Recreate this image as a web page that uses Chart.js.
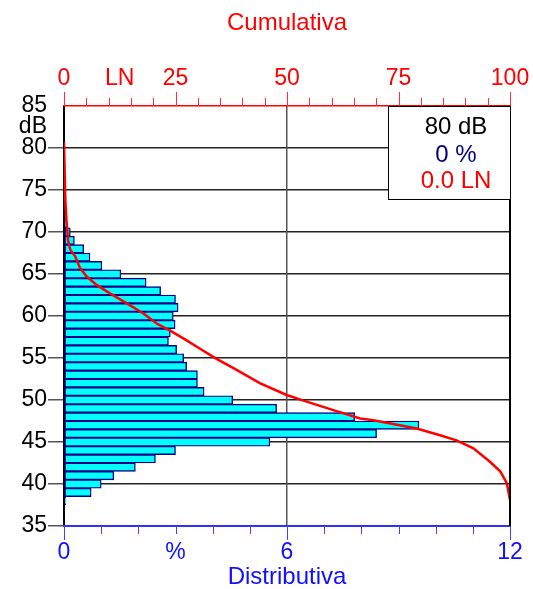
<!DOCTYPE html>
<html>
<head>
<meta charset="utf-8">
<script src="https://cdn.jsdelivr.net/npm/chart.js@4/dist/chart.umd.min.js"></script>
<style>
  html, body { margin: 0; padding: 0; background: #fff; }
  canvas { display: block; }
</style>
</head>
<body>
<canvas id="nivel" width="533" height="589" style="width:533px;height:589px"></canvas>
<script>
// niveles (centro de cada barra, dB) y distribución en %
const dbLevels = [38, 39, 40, 41, 42, 43, 44, 45, 46, 47, 48, 49, 50, 51, 52, 53, 54, 55,
  56, 57, 58, 59, 60, 61, 62, 63, 64, 65, 66, 67, 68, 69, 70, 71, 72, 73, 74];
const distPct = [0.05, 0.73, 1.00, 1.34, 1.92, 2.46, 3.00, 5.54, 8.41, 9.55, 7.82, 5.72, 4.54, 3.77, 3.59, 3.59, 3.30, 3.22,
  3.03, 2.81, 2.86, 2.99, 2.94, 3.07, 3.00, 2.60, 2.21, 1.53, 1.02, 0.70, 0.53, 0.28, 0.17, 0.06, 0.05, 0.04, 0.03];

// curva acumulativa (LN)
const cumLN = [0, 0.3, 0.55, 0.9, 1.4, 2.5, 3.6, 5.1, 7.3, 10.3, 14.1, 17.8, 20.8, 23.8, 27.5, 30.5, 34.2, 38.0,
  43.9, 49.9, 54.4, 60.4, 66.4, 69.4, 79.1, 84.3, 88.0, 91.8, 95.5, 97.8, 99.3, 100];
const cumDB = [80.7, 73.8, 71.4, 69.05, 67.9, 67.1, 65.7, 64.7, 63.7, 62.7, 61.5, 60.3, 59.1, 58.25, 57.1, 56.1, 54.9, 53.8,
  52.0, 50.6, 49.8, 48.8, 47.8, 47.6, 46.6, 45.8, 45.2, 44.25, 42.65, 41.5, 40.1, 38.1];

// ejes
const yTickValues = [35, 40, 45, 50, 55, 60, 65, 70, 75, 80, 82.5, 85];
const yTickLabels = ['35', '40', '45', '50', '55', '60', '65', '70', '75', '80', 'dB', '85'];
const topLabelValues = [0, 12.5, 25, 50, 75, 100];
const topLabels = ['0', 'LN', '25', '50', '75', '100'];
const topTickMarks = [0, 5, 10, 15, 20, 25, 30, 35, 40, 45, 50, 55, 60, 65, 70, 75, 80, 85, 90, 95, 100];
const topMajor = [0, 25, 50, 75, 100];
const bottomLabelValues = [0, 3, 6, 12];
const bottomLabels = ['0', '%', '6', '12'];
const bottomTickMarks = [0, 1, 2, 3, 4, 5, 6, 7, 8, 9, 10, 11, 12];
const bottomMajor = [0, 6, 12];

// lectura del cursor
const readout = ['80 dB', '0 %', '0.0 LN'];
const readoutColors = ['#000000', '#000080', '#ff0000'];

Chart.defaults.font.family = '"Liberation Sans", Arial, sans-serif';
Chart.defaults.color = '#000';

const clear = 'rgba(0,0,0,0)';

// sin relleno extra por las etiquetas de los extremos
const noPad = s => { s.paddingLeft = 0; s.paddingRight = 0; s.paddingTop = 0; s.paddingBottom = 0; };

// marcas de los ejes superior/inferior, borde derecho y cuadro de lectura
const extras = {
  id: 'extras',
  afterDraw(chart) {
    const c = chart.ctx;
    const a = chart.chartArea;
    const top = chart.scales.xCum;
    const bot = chart.scales.xDist;
    c.save();
    c.lineWidth = 1;
    c.strokeStyle = '#ff3030';
    topTickMarks.forEach(v => {
      const x = Math.round(top.getPixelForValue(v)) + 0.5;
      const len = topMajor.includes(v) ? 14 : 8;
      c.beginPath();
      c.moveTo(x, a.top);
      c.lineTo(x, a.top - len);
      c.stroke();
    });
    c.strokeStyle = '#4040ff';
    bottomTickMarks.forEach(v => {
      const x = Math.round(bot.getPixelForValue(v)) + 0.5;
      const len = bottomMajor.includes(v) ? 14 : 8;
      c.beginPath();
      c.moveTo(x, a.bottom);
      c.lineTo(x, a.bottom + len);
      c.stroke();
    });
    // borde derecho
    c.strokeStyle = '#000';
    c.lineWidth = 2;
    c.beginPath();
    c.moveTo(a.right, a.top);
    c.lineTo(a.right, a.bottom);
    c.stroke();
    // cuadro de lectura
    const bw = 122, bh = 93;
    const bx = a.right - bw, by = a.top;
    c.fillStyle = '#fff';
    c.fillRect(bx, by, bw, bh);
    c.lineWidth = 1;
    c.strokeRect(bx + 0.5, by + 0.5, bw, bh);
    c.font = '24px "Liberation Sans", Arial, sans-serif';
    c.textAlign = 'center';
    c.textBaseline = 'alphabetic';
    const rows = [28, 56, 82];
    readout.forEach((t, i) => {
      c.fillStyle = readoutColors[i];
      c.fillText(t, bx + 68, by + rows[i]);
    });
    c.restore();
  }
};

new Chart(document.getElementById('nivel'), {
  type: 'bar',
  data: {
    datasets: [
      {
        type: 'line',
        indexAxis: 'y',
        xAxisID: 'xCum',
        yAxisID: 'y',
        data: cumLN.map((v, i) => ({ x: v, y: cumDB[i] })),
        borderColor: '#ff0000',
        borderWidth: 2.5,
        pointRadius: 0,
        tension: 0,
        fill: false,
        order: 0
      },
      {
        type: 'bar',
        indexAxis: 'y',
        xAxisID: 'xDist',
        yAxisID: 'y',
        data: dbLevels.map((d, i) => ({ x: distPct[i], y: d })),
        backgroundColor: '#00ffff',
        borderColor: '#000088',
        borderWidth: 1.4,
        borderSkipped: false,
        barPercentage: 1,
        categoryPercentage: 1,
        order: 1
      }
    ]
  },
  options: {
    indexAxis: 'y',
    responsive: false,
    animation: false,
    layout: { padding: { left: 0, right: 23, top: 0, bottom: 0 } },
    plugins: {
      legend: { display: false },
      tooltip: { enabled: false }
    },
    scales: {
      y: {
        type: 'linear',
        position: 'left',
        min: 35,
        max: 85,
        offset: false,
        afterBuildTicks: s => { s.ticks = yTickValues.map(v => ({ value: v })); },
        afterFit: s => { s.width = 64; noPad(s); },
        ticks: {
          autoSkip: false,
          color: '#000',
          font: { size: 23 },
          padding: 1,
          callback: (v, i) => yTickLabels[i]
        },
        grid: {
          offset: false,
          drawTicks: true,
          tickLength: 16,
          lineWidth: 1.5,
          color: ctx => {
            const v = ctx.tick ? ctx.tick.value : 0;
            return (v >= 40 && v <= 80 && v % 5 === 0) ? '#222' : clear;
          },
          tickColor: ctx => {
            const v = ctx.tick ? ctx.tick.value : 0;
            return (v <= 80 && v % 5 === 0) ? '#555' : clear;
          }
        },
        border: { color: '#000', width: 2 }
      },
      xDist: {
        type: 'linear',
        position: 'bottom',
        min: 0,
        max: 12,
        afterBuildTicks: s => { s.ticks = bottomLabelValues.map(v => ({ value: v })); },
        afterFit: s => { s.height = 63; noPad(s); },
        ticks: {
          autoSkip: false,
          maxRotation: 0,
          color: '#1010ff',
          font: { size: 23 },
          padding: 13,
          callback: (v, i) => bottomLabels[i]
        },
        grid: {
          drawTicks: false,
          lineWidth: 1.5,
          color: ctx => (ctx.tick && ctx.tick.value === 6) ? '#555' : clear
        },
        border: { color: '#3030ff', width: 2 },
        title: {
          display: true,
          text: 'Distributiva',
          color: '#1010ff',
          font: { size: 24, lineHeight: 1 },
          padding: { top: 0, bottom: 0 }
        }
      },
      xCum: {
        type: 'linear',
        position: 'top',
        min: 0,
        max: 100,
        afterBuildTicks: s => { s.ticks = topLabelValues.map(v => ({ value: v })); },
        afterFit: s => { s.height = 106; noPad(s); },
        ticks: {
          autoSkip: false,
          maxRotation: 0,
          color: '#ff0000',
          font: { size: 23 },
          padding: 14,
          callback: (v, i) => topLabels[i]
        },
        grid: { drawOnChartArea: false, drawTicks: false },
        border: { color: '#ff0000', width: 1.5 },
        title: {
          display: true,
          text: 'Cumulativa',
          color: '#ff0000',
          font: { size: 24, lineHeight: 1 },
          padding: { top: 11, bottom: 0 }
        }
      }
    }
  },
  plugins: [extras]
});
</script>
</body>
</html>
